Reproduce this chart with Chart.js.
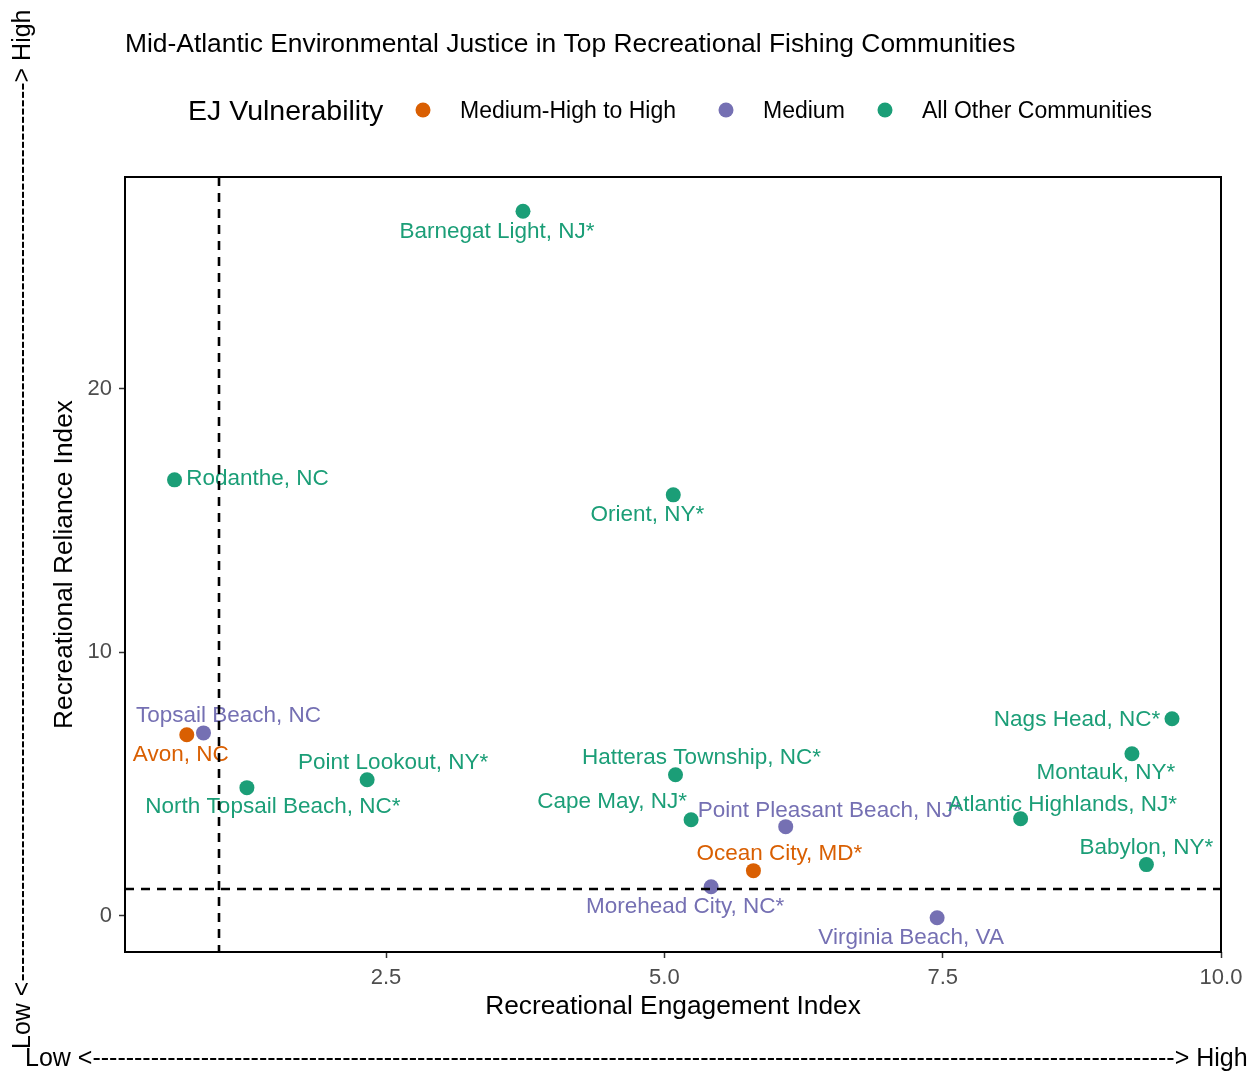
<!DOCTYPE html>
<html>
<head>
<meta charset="utf-8">
<script src="https://cdn.jsdelivr.net/npm/chart.js@4"></script>
<style>
  html, body { margin: 0; padding: 0; background: #fff; }
  #wrap { width: 1260px; height: 1074px; }
</style>
</head>
<body>
<div id="wrap"><canvas id="myChart" width="1260" height="1074"></canvas></div>
<script>
// communities and their index scores
const communities = [
  'Barnegat Light, NJ*', 'Rodanthe, NC', 'Orient, NY*', 'Topsail Beach, NC', 'Avon, NC',
  'North Topsail Beach, NC*', 'Point Lookout, NY*', 'Hatteras Township, NC*', 'Cape May, NJ*',
  'Point Pleasant Beach, NJ*', 'Ocean City, MD*', 'Morehead City, NC*', 'Virginia Beach, VA',
  'Nags Head, NC*', 'Montauk, NY*', 'Atlantic Highlands, NJ*', 'Babylon, NY*'
];
const engagement = [3.73, 0.60, 5.08, 0.86, 0.71, 1.25, 2.33, 5.10, 5.24, 6.09, 5.80, 5.42, 7.45, 9.56, 9.20, 8.20, 9.33];
const reliance = [26.75, 16.55, 15.98, 6.94, 6.87, 4.86, 5.16, 5.35, 3.64, 3.38, 1.71, 1.10, -0.08, 7.48, 6.15, 3.68, 1.94];
const vulnerability = ['Other', 'Other', 'Other', 'Medium', 'High', 'Other', 'Other', 'Other', 'Other',
  'Medium', 'High', 'Medium', 'Medium', 'Other', 'Other', 'Other', 'Other'];

const groupKeys = ['High', 'Medium', 'Other'];
const groupNames = ['Medium-High to High', 'Medium', 'All Other Communities'];
const groupColors = ['#D95F02', '#7570B3', '#1B9E77'];

const xTicks = [2.5, 5.0, 7.5, 10.0];
const yTicks = [0, 10, 20];
const engagementCut = 1;
const relianceCut = 1;

// label nudges in pixels (dx, dy from the point)
const labelOffsets = [
  [-26, 20], [83, -2], [-26, 19], [25, -18], [-6, 19],
  [26, 18], [26, -18], [26, -18], [-79, -19],
  [44, -17], [26, -18], [-26, 19], [-26, 19],
  [-95, 0], [-26, 18], [42, -15], [0, -18]
];

const FONT = '"Liberation Sans", Arial, Helvetica, sans-serif';

const datasets = groupKeys.map((g, gi) => {
  const idx = communities.map((_, i) => i).filter(i => vulnerability[i] === g);
  return {
    label: groupNames[gi],
    data: idx.map(i => ({ x: engagement[i], y: reliance[i], name: communities[i], off: labelOffsets[i] })),
    backgroundColor: groupColors[gi],
    borderWidth: 0,
    pointRadius: 7.5,
    pointHoverRadius: 7.5
  };
});

function arrowText(ctx, span) {
  const head = 'Low <', tail = '> High';
  const n = Math.floor((span - ctx.measureText(head + tail).width) / ctx.measureText('-').width);
  return head + '-'.repeat(Math.max(n, 0)) + tail;
}

const overlay = {
  id: 'overlay',
  afterDatasetsDraw(chart) {
    const ctx = chart.ctx;
    const area = chart.chartArea;
    const xs = chart.scales.x, ys = chart.scales.y;

    // point labels
    ctx.save();
    ctx.font = '22.5px ' + FONT;
    ctx.textAlign = 'center';
    ctx.textBaseline = 'middle';
    chart.data.datasets.forEach((ds, di) => {
      const meta = chart.getDatasetMeta(di);
      ctx.fillStyle = ds.backgroundColor;
      ds.data.forEach((d, i) => {
        const el = meta.data[i];
        ctx.fillText(d.name, el.x + d.off[0], el.y + d.off[1] + 1);
      });
    });
    ctx.restore();

    // reference lines
    ctx.save();
    ctx.strokeStyle = '#000';
    ctx.lineWidth = 2.6;
    ctx.setLineDash([9, 7]);
    const vx = Math.round(xs.getPixelForValue(engagementCut));
    ctx.beginPath();
    ctx.moveTo(vx, area.top);
    ctx.lineTo(vx, area.bottom);
    ctx.stroke();
    const hy = Math.round(ys.getPixelForValue(relianceCut));
    ctx.beginPath();
    ctx.moveTo(area.left, hy);
    ctx.lineTo(area.right, hy);
    ctx.stroke();
    ctx.restore();
  },
  afterDraw(chart) {
    const ctx = chart.ctx;
    const area = chart.chartArea;
    ctx.save();

    // panel border
    ctx.strokeStyle = '#000';
    ctx.lineWidth = 2;
    ctx.strokeRect(area.left, area.top, area.right - area.left, area.bottom - area.top);

    ctx.fillStyle = '#000';
    ctx.textBaseline = 'middle';

    // title
    ctx.font = '26.4px ' + FONT;
    ctx.textAlign = 'left';
    ctx.fillText('Mid-Atlantic Environmental Justice in Top Recreational Fishing Communities', 125, 45);

    // legend
    ctx.font = '28.5px ' + FONT;
    ctx.fillText('EJ Vulnerability', 188, 112);
    const dotX = [423, 726, 885];
    ctx.font = '23px ' + FONT;
    groupNames.forEach((name, i) => {
      ctx.fillStyle = groupColors[i];
      ctx.beginPath();
      ctx.arc(dotX[i], 110, 7.5, 0, Math.PI * 2);
      ctx.fill();
      ctx.fillStyle = '#000';
      ctx.fillText(name, dotX[i] + 37, 112);
    });

    // axis titles
    ctx.font = '26.3px ' + FONT;
    ctx.textAlign = 'center';
    ctx.fillText('Recreational Engagement Index', (area.left + area.right) / 2, 1007);
    ctx.save();
    ctx.translate(65, (area.top + area.bottom) / 2);
    ctx.rotate(-Math.PI / 2);
    ctx.fillText('Recreational Reliance Index', 0, 0);
    ctx.restore();

    // low/high direction arrows
    ctx.font = '25px ' + FONT;
    ctx.textAlign = 'left';
    ctx.fillText(arrowText(ctx, 1226), 25, 1059);
    ctx.save();
    ctx.translate(23, 1049);
    ctx.rotate(-Math.PI / 2);
    ctx.fillText(arrowText(ctx, 1046), 0, 0);
    ctx.restore();

    ctx.restore();
  }
};

const ctx = document.getElementById('myChart').getContext('2d');
const myChart = new Chart(ctx, {
  type: 'scatter',
  data: { datasets: datasets },
  options: {
    responsive: false,
    animation: false,
    devicePixelRatio: 1,
    layout: { padding: { top: 177, left: 75, right: 39, bottom: 0 } },
    plugins: {
      legend: { display: false },
      tooltip: { enabled: false }
    },
    scales: {
      x: {
        type: 'linear',
        min: 0.155,
        max: 10.0,
        afterBuildTicks: s => { s.ticks = xTicks.map(v => ({ value: v })); },
        afterFit: s => { s.height = 122; },
        border: { display: false },
        grid: { drawOnChartArea: false, drawTicks: true, tickLength: 6, tickColor: '#333333', tickWidth: 1.5 },
        ticks: {
          autoSkip: false,
          maxRotation: 0,
          padding: 7,
          color: '#4D4D4D',
          font: { family: FONT, size: 22 },
          callback: v => v.toFixed(1)
        }
      },
      y: {
        type: 'linear',
        min: -1.38,
        max: 28.05,
        afterBuildTicks: s => { s.ticks = yTicks.map(v => ({ value: v })); },
        afterFit: s => { s.width = 50; },
        border: { display: false },
        grid: { drawOnChartArea: false, drawTicks: true, tickLength: 6, tickColor: '#333333', tickWidth: 1.5 },
        ticks: {
          autoSkip: false,
          padding: 7,
          color: '#4D4D4D',
          font: { family: FONT, size: 22 },
          callback: v => String(v)
        }
      }
    }
  },
  plugins: [overlay]
});
</script>
</body>
</html>
